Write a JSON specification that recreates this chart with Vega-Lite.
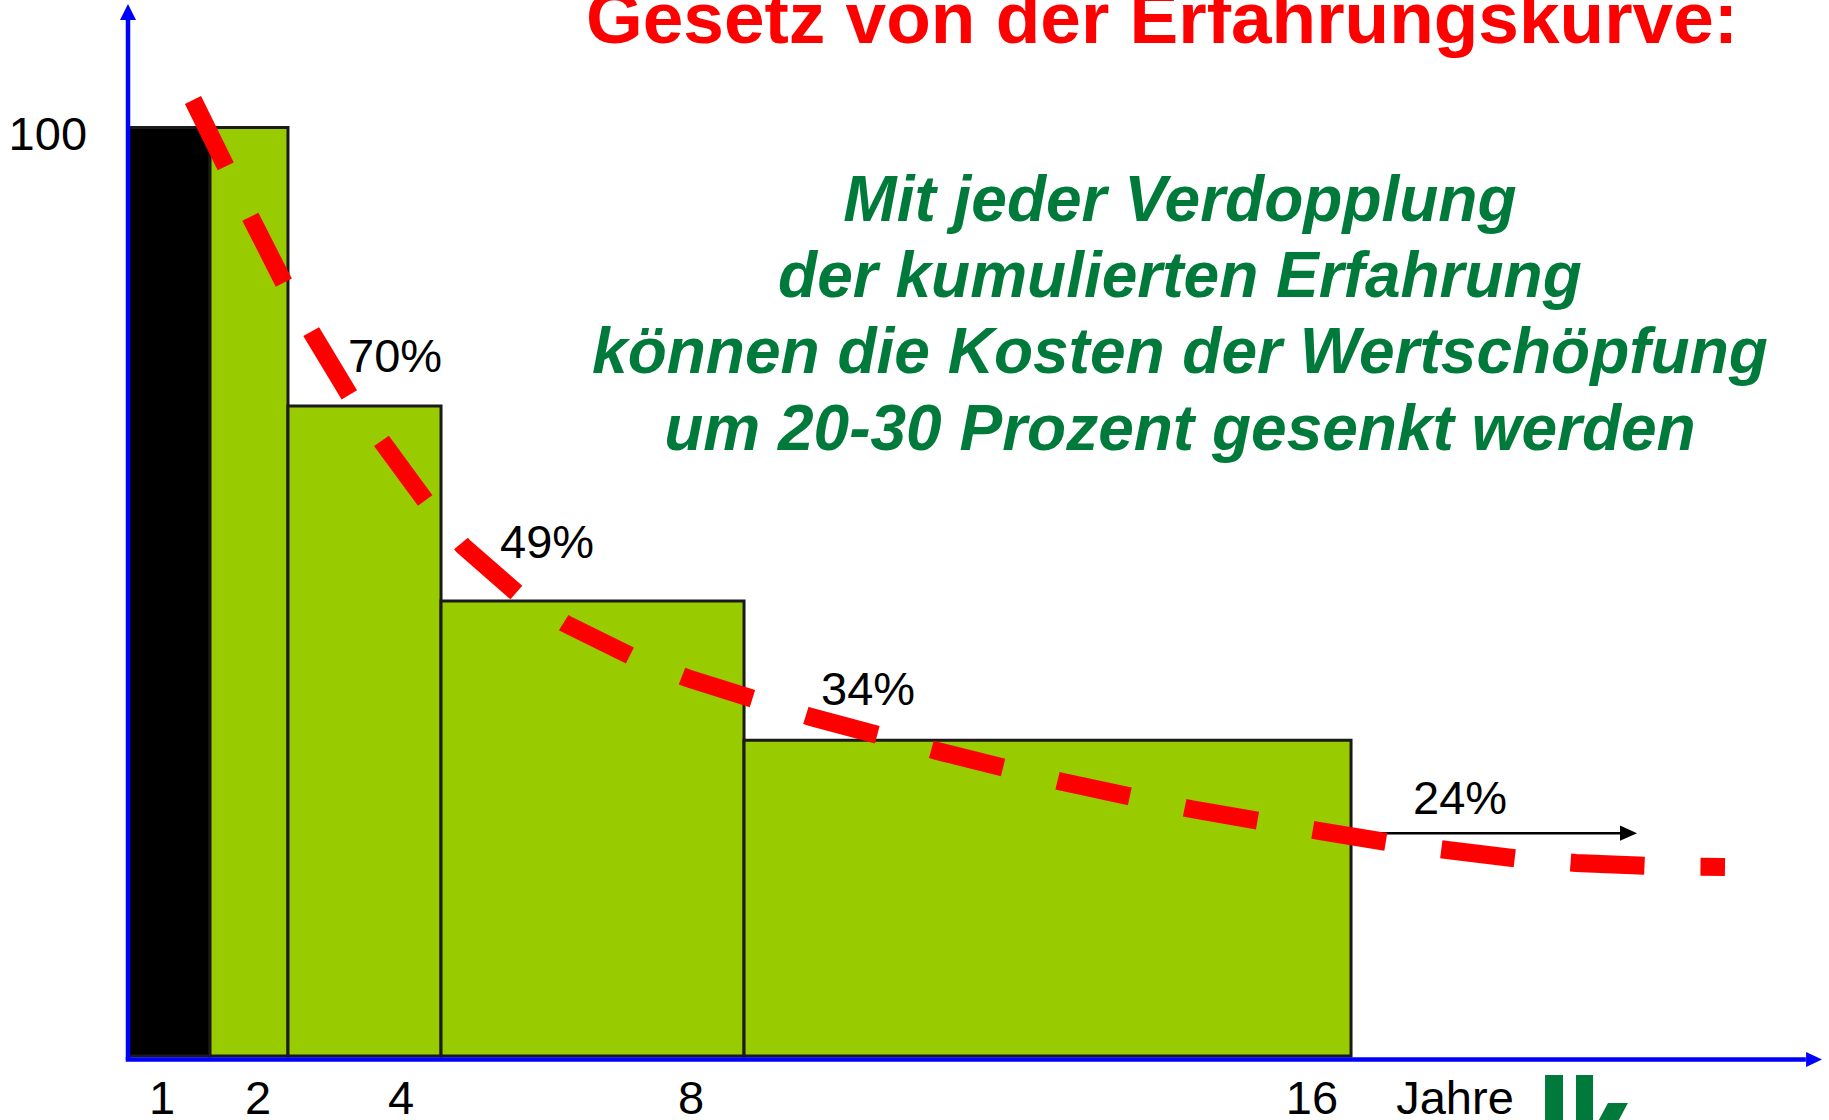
{
  "$schema": "https://vega.github.io/schema/vega-lite/v6.json",
  "width": 1829,
  "height": 1120,
  "padding": 0,
  "autosize": {"type": "none"},
  "background": "white",
  "config": {"view": {"stroke": null}, "text": {"font": "Liberation Sans"}},
  "encoding": {
    "x": {"field": "x", "type": "quantitative", "scale": {"domain": [-1.6745, 22.2528], "nice": false, "zero": false}, "axis": null},
    "y": {"field": "y", "type": "quantitative", "scale": {"domain": [-6.893, 113.732], "nice": false, "zero": false}, "axis": null}
  },
  "layer": [
    {
      "data": {"values": [
        {"stufe": "1", "x": 0, "x2": 1.073, "y": 100, "kind": "Basis"},
        {"stufe": "2", "x": 1.073, "x2": 2.093, "y": 100, "kind": "Erfahrung"},
        {"stufe": "4", "x": 2.093, "x2": 4.095, "y": 70, "kind": "Erfahrung"},
        {"stufe": "8", "x": 4.095, "x2": 8.059, "y": 49, "kind": "Erfahrung"},
        {"stufe": "16", "x": 8.059, "x2": 16.0, "y": 34, "kind": "Erfahrung"}
      ]},
      "mark": {"type": "rect", "stroke": "#1a1a1a", "strokeWidth": 3},
      "encoding": {
        "x2": {"field": "x2"},
        "y2": {"datum": 0},
        "color": {"field": "kind", "type": "nominal", "scale": {"domain": ["Basis", "Erfahrung"], "range": ["#000000", "#99cc00"]}, "legend": null}
      }
    },
    {
      "data": {"values": [
        {"x": 0, "y": -0.377, "x2": 0, "y2": 112.0},
        {"x": -0.03, "y": -0.377, "x2": 21.95, "y2": -0.377}
      ]},
      "mark": {"type": "rule", "color": "#0000ff", "strokeWidth": 4.5},
      "encoding": {"x2": {"field": "x2"}, "y2": {"field": "y2"}}
    },
    {
      "data": {"values": [{"x": 0, "y": 112.44}]},
      "mark": {"type": "point", "shape": "M0,-1L1,1L-1,1Z", "filled": true, "color": "#0000ff", "size": 256, "opacity": 1, "strokeWidth": 0}
    },
    {
      "data": {"values": [{"x": 22.057, "y": -0.377}]},
      "mark": {"type": "point", "shape": "M1,0L-1,-0.95L-1,0.95Z", "filled": true, "color": "#0000ff", "size": 256, "opacity": 1, "strokeWidth": 0}
    },
    {
      "data": {"values": [{"x": 16.0, "y": 24, "x2": 19.55, "y2": 24}]},
      "mark": {"type": "rule", "color": "#000000", "strokeWidth": 2.5},
      "encoding": {"x2": {"field": "x2"}, "y2": {"field": "y2"}}
    },
    {
      "data": {"values": [{"x": 19.63, "y": 24}]},
      "mark": {"type": "point", "shape": "M1,0L-1,-0.9L-1,0.9Z", "filled": true, "color": "#000000", "size": 289, "opacity": 1, "strokeWidth": 0}
    },
    {
      "data": {"values": [
        {"x": 0.850, "y": 102.96}, {"x": 1.282, "y": 95.75}, {"x": 1.609, "y": 90.25},
        {"x": 2.041, "y": 83.25}, {"x": 2.407, "y": 77.87}, {"x": 2.904, "y": 71.08},
        {"x": 3.336, "y": 66.02}, {"x": 3.912, "y": 59.56}, {"x": 4.383, "y": 54.93},
        {"x": 5.102, "y": 49.76}, {"x": 5.730, "y": 46.53}, {"x": 6.607, "y": 42.97},
        {"x": 7.313, "y": 40.71}, {"x": 8.229, "y": 38.34}, {"x": 8.935, "y": 36.51},
        {"x": 9.864, "y": 34.46}, {"x": 10.584, "y": 32.85}, {"x": 11.525, "y": 30.91},
        {"x": 12.232, "y": 29.51}, {"x": 13.200, "y": 27.79}, {"x": 13.906, "y": 26.60},
        {"x": 14.874, "y": 25.20}, {"x": 15.594, "y": 24.23}, {"x": 16.549, "y": 22.94},
        {"x": 17.255, "y": 22.19}, {"x": 18.223, "y": 21.22}, {"x": 18.943, "y": 20.79},
        {"x": 19.898, "y": 20.46}, {"x": 20.892, "y": 20.36}
      ]},
      "mark": {"type": "line", "color": "#ff0000", "strokeWidth": 18, "strokeDash": [74, 56], "strokeCap": "butt", "interpolate": "linear"},
      "encoding": {}
    },
    {
      "data": {"values": [
        {"x": 18.538, "x2": 18.773, "y": -2.046},
        {"x": 18.943, "x2": 19.166, "y": -2.046}
      ]},
      "mark": {"type": "rect", "color": "#007a3a"},
      "encoding": {"x2": {"field": "x2"}, "y2": {"datum": -7.5}}
    },
    {
      "data": {"values": [{"x": 19.257, "y": -6.893}]},
      "mark": {"type": "point", "shape": "M0.43,-0.92L1.51,-0.92L0.73,0.54L-0.35,0.54Z", "filled": true, "color": "#007a3a", "size": 1369, "opacity": 1, "strokeWidth": 0}
    },
    {
      "data": {"values": [{"x": 13.527, "y": 109.10, "label": "Gesetz von der Erfahrungskurve:"}]},
      "mark": {"type": "text", "fontSize": 73, "fontWeight": "bold", "color": "#ff0000", "align": "center", "baseline": "alphabetic"},
      "encoding": {"text": {"field": "label"}}
    },
    {
      "data": {"values": [
        {"x": 13.762, "y": 89.93, "label": "Mit jeder Verdopplung"},
        {"x": 13.762, "y": 81.74, "label": "der kumulierten Erfahrung"},
        {"x": 13.762, "y": 73.56, "label": "können die Kosten der Wertschöpfung"},
        {"x": 13.762, "y": 65.27, "label": "um 20-30 Prozent gesenkt werden"}
      ]},
      "mark": {"type": "text", "fontSize": 64, "fontWeight": "bold", "fontStyle": "italic", "color": "#007a3a", "align": "center", "baseline": "alphabetic"},
      "encoding": {"text": {"field": "label"}}
    },
    {
      "data": {"values": [
        {"x": 2.878, "y": 73.67, "label": "70%"},
        {"x": 4.867, "y": 53.64, "label": "49%"},
        {"x": 9.066, "y": 37.80, "label": "34%"},
        {"x": 16.811, "y": 26.06, "label": "24%"}
      ]},
      "mark": {"type": "text", "fontSize": 47, "color": "#000000", "align": "left", "baseline": "alphabetic"},
      "encoding": {"text": {"field": "label"}}
    },
    {
      "data": {"values": [{"x": -0.536, "y": 97.58, "label": "100"}]},
      "mark": {"type": "text", "fontSize": 47, "color": "#000000", "align": "right", "baseline": "alphabetic"},
      "encoding": {"text": {"field": "label"}}
    },
    {
      "data": {"values": [
        {"x": 0.445, "y": -6.247, "label": "1"},
        {"x": 1.701, "y": -6.247, "label": "2"},
        {"x": 3.571, "y": -6.247, "label": "4"},
        {"x": 7.365, "y": -6.247, "label": "8"},
        {"x": 15.489, "y": -6.247, "label": "16"},
        {"x": 17.360, "y": -6.247, "label": "Jahre"}
      ]},
      "mark": {"type": "text", "fontSize": 47, "color": "#000000", "align": "center", "baseline": "alphabetic"},
      "encoding": {"text": {"field": "label"}}
    }
  ]
}
